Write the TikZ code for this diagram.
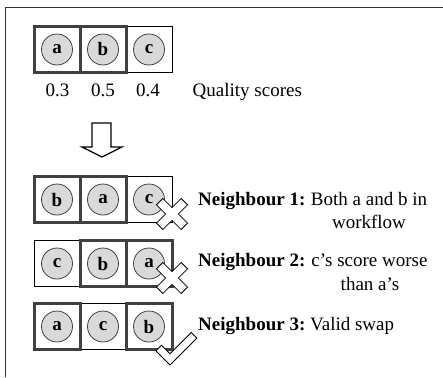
\documentclass[tikz,border=0pt]{standalone}
\usepackage{fontspec}
\setmainfont{Liberation Serif}
\begin{document}
\begin{tikzpicture}[x=1pt,y=-1pt,
  every node/.style={inner sep=0pt,font=\fontsize{19}{23}\selectfont},
  cellthin/.style={draw=black,line width=0.8pt,minimum size=46pt,inner sep=0pt},
  cellthick/.style={draw=black!75,line width=3pt,minimum size=46pt,inner sep=0pt},
  token/.style={circle,draw=black!75,line width=0.8pt,fill=black!15,minimum size=31pt,
    inner sep=0pt,font=\fontsize{19}{23}\selectfont\bfseries},
  badge/.style={draw=black,line width=0.8pt,fill=white,line join=miter},
  heading/.style={anchor=base west,font=\fontsize{19}{23}\selectfont\bfseries},
  note/.style={anchor=base}]
\useasboundingbox (0,0) rectangle (443,377);

% frame
\draw[line width=1pt,black!80] (5,377) -- (5,7.5) -- (443,7.5);

% row 1: original order
\node[cellthin]  (r1c) at (149,49.5) {};
\node[cellthick] (r1a) at (57,49.5) {};
\node[cellthick] (r1b) at (103,49.5) {};
\node[token] (t1a) at (r1a) {a};
\node[token] (t1b) at (r1b) {b};
\node[token] (t1c) at (r1c) {c};
\node[note] (s1) at (57.5,96) {0.3};
\node[note] (s2) at (103,96) {0.5};
\node[note] (s3) at (148,96) {0.4};
\node[anchor=base west] (qs) at (192.5,96) {Quality scores};

% hollow arrow
\draw[line width=1.3pt,fill=white,line join=miter]
  (92,123) -- (111,123) -- (111,147) -- (122,147) -- (102,157) -- (82,147) -- (92,147) -- cycle;

% row 2: neighbour 1
\node[cellthin]  (r2c) at (149,199.5) {};
\node[cellthick] (r2b) at (57,199.5) {};
\node[cellthick] (r2a) at (103,199.5) {};
\node[token] (t2b) at (r2b) {b};
\node[token] (t2a) at (r2a) {a};
\node[token] (t2c) at (r2c) {c};

% row 3: neighbour 2
\node[cellthin]  (r3c) at (57,263.5) {};
\node[cellthick] (r3b) at (103,263.5) {};
\node[cellthick] (r3a) at (149,263.5) {};
\node[token] (t3c) at (r3c) {c};
\node[token] (t3b) at (r3b) {b};
\node[token] (t3a) at (r3a) {a};

% row 4: neighbour 3
\node[cellthin]  (r4c) at (103,326.5) {};
\node[cellthick] (r4a) at (57,326.5) {};
\node[cellthick] (r4b) at (149,326.5) {};
\node[token] (t4a) at (r4a) {a};
\node[token] (t4c) at (r4c) {c};
\node[token] (t4b) at (r4b) {b};

% rejection crosses
\foreach \cy in {214,278}{
  \begin{scope}[shift={(172,\cy)},rotate=45]
    \draw[badge] (4.5pt,4.5pt) -- (17.5pt,4.5pt) -- (17.5pt,-4.5pt) -- (4.5pt,-4.5pt)
      -- (4.5pt,-17.5pt) -- (-4.5pt,-17.5pt) -- (-4.5pt,-4.5pt) -- (-17.5pt,-4.5pt)
      -- (-17.5pt,4.5pt) -- (-4.5pt,4.5pt) -- (-4.5pt,17.5pt) -- (4.5pt,17.5pt) -- cycle;
  \end{scope}
}

% acceptance tick
\begin{scope}[shift={(170,365)},rotate=-45]
  \draw[badge] (0pt,0pt) -- (0pt,38pt) -- (-8pt,38pt) -- (-8pt,8pt)
    -- (-20pt,8pt) -- (-20pt,0pt) -- cycle;
\end{scope}

% descriptions
\node[heading] (h1) at (198,205.5) {Neighbour 1:};
\node[note] (d1a) at (369,205.5) {Both a and b in};
\node[note] (d1b) at (369,228.3) {workflow};
\node[heading] (h2) at (198,266.7) {Neighbour 2:};
\node[note] (d2a) at (369.5,266.7) {c’s score worse};
\node[note] (d2b) at (370,290) {than a’s};
\node[heading] (h3) at (198,330) {Neighbour 3:};
\node[anchor=base west] (d3) at (310,330) {Valid swap};
\end{tikzpicture}
\end{document}
